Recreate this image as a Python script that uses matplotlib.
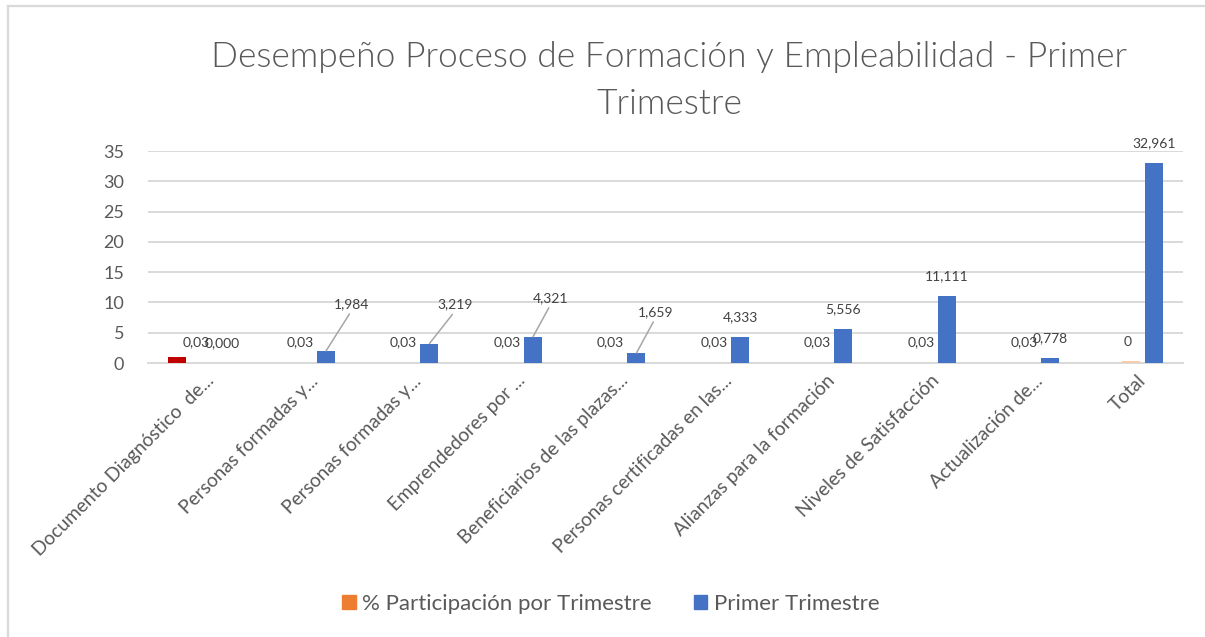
import matplotlib
matplotlib.use("Agg")
import matplotlib.pyplot as plt
import numpy as np
from matplotlib.patches import Patch
from matplotlib.lines import Line2D

# ---------------- data ----------------
categories = [
    "Documento Diagnóstico  de...",
    "Personas formadas y...",
    "Personas formadas y...",
    "Emprendedores por ...",
    "Beneficiarios de las plazas...",
    "Personas certificadas en las...",
    "Alianzas para la formación",
    "Niveles de Satisfacción",
    "Actualización de...",
    "Total",
]
highlight_values = [1.0, 0, 0, 0, 0, 0, 0, 0, 0, 0]
pct_values = [0.03, 0.03, 0.03, 0.03, 0.03, 0.03, 0.03, 0.03, 0.03, 0.3]
pct_labels = ["0,03", "0,03", "0,03", "0,03", "0,03", "0,03", "0,03", "0,03", "0,03", "0"]
trim_values = [0.0, 1.984, 3.219, 4.321, 1.659, 4.333, 5.556, 11.111, 0.778, 32.961]
trim_labels = [f"{v:.3f}".replace(".", ",") for v in trim_values]
series_names = ["% Participación por Trimestre", "Primer Trimestre"]
title_lines = ["Desempeño Proceso de Formación y Empleabilidad - Primer", "Trimestre"]
yticks = [0, 5, 10, 15, 20, 25, 30, 35]

# ---------------- style ----------------
FONT = "Lato"
plt.rcParams["font.family"] = [FONT, "DejaVu Sans"]
TXT = "#595959"
LBL = "#404040"
GRID = "#D9D9D9"
BLUE = "#4472C4"
ORANGE = "#ED7D31"
PEACH = "#F8CBAD"
RED = "#C00000"

W, H = 1205, 637
fig = plt.figure(figsize=(W / 100, H / 100), dpi=100)
fig.patch.set_facecolor("white")

ax = fig.add_axes([147.75 / W, (H - 363) / H, 1035 / W, 212 / H])
x = np.arange(len(categories))
slot = 0.222
bw = 0.174

ax.bar(x - slot, highlight_values, bw, color=RED, zorder=3)
ax.bar(x, pct_values, bw, color=[ORANGE] * 9 + [PEACH], zorder=3)
ax.bar(x + slot, trim_values, bw, color=BLUE, zorder=3)

ax.set_xlim(-0.5, len(categories) - 0.5)
ax.set_ylim(0, 35)
ax.set_yticks(yticks)
ax.yaxis.grid(True, color=GRID, lw=1.4, zorder=0)
ax.set_axisbelow(True)
for s in ["top", "right", "left"]:
    ax.spines[s].set_visible(False)
ax.spines["bottom"].set_color(GRID)
ax.spines["bottom"].set_linewidth(1.4)
ax.tick_params(axis="y", length=0, pad=17, labelsize=13, labelcolor=TXT)
ax.tick_params(axis="x", length=0, labelbottom=False)

# category labels (rotated 45°, right end at the category)
for i, cat in enumerate(categories):
    ax.annotate(cat, xy=(x[i], 0), xytext=(6, -9), textcoords="offset pixels",
                rotation=45, rotation_mode="anchor", ha="right", va="top",
                fontsize=13.8, color=TXT, annotation_clip=False)

# data labels: pct series
for i, lab in enumerate(pct_labels):
    ax.annotate(lab, xy=(x[i], 0), xytext=(-3, 21), textcoords="offset pixels",
                ha="center", va="center", fontsize=10, color=LBL, zorder=5)

# data labels: trimester series
leaders = {1: (26, 47), 2: (26, 39), 3: (18, 39), 4: (19, 41)}
for i, (v, lab) in enumerate(zip(trim_values, trim_labels)):
    if i in leaders:
        dx, dy = leaders[i]
        ax.annotate(lab, xy=(x[i] + slot, v), xytext=(dx, dy), textcoords="offset pixels",
                    ha="center", va="center", fontsize=10, color=LBL, zorder=5,
                    arrowprops=dict(arrowstyle="-", color="#A6A6A6", lw=1.1,
                                    shrinkA=1, shrinkB=0, relpos=(0.5, 0.0)))
    else:
        ax.annotate(lab, xy=(x[i] + slot, v), xytext=(0, 20), textcoords="offset pixels",
                    ha="center", va="center", fontsize=10, color=LBL, zorder=5)

# title
fig.text(669 / W, 1 - 67 / H, title_lines[0], ha="center", va="baseline",
         fontsize=25.5, color=TXT, fontweight=300)
fig.text(669 / W, 1 - 114 / H, title_lines[1], ha="center", va="baseline",
         fontsize=25.5, color=TXT, fontweight=300)

# legend
handles = [Patch(color=ORANGE), Patch(color=BLUE)]
fig.legend(handles, series_names, loc="center", bbox_to_anchor=(611 / W, 1 - 604 / H),
           ncol=2, frameon=False, fontsize=16, labelcolor=TXT,
           handlelength=0.6, handleheight=0.6, handletextpad=0.3, columnspacing=1.9)

# chart border (left and top)
fig.add_artist(Line2D([8 / W, 8 / W], [0, 1 - 6 / H], color=GRID, lw=1.6, transform=fig.transFigure))
fig.add_artist(Line2D([8 / W, 1], [1 - 6 / H, 1 - 6 / H], color=GRID, lw=1.6, transform=fig.transFigure))

fig.savefig("out.png", dpi=100, facecolor="white")
